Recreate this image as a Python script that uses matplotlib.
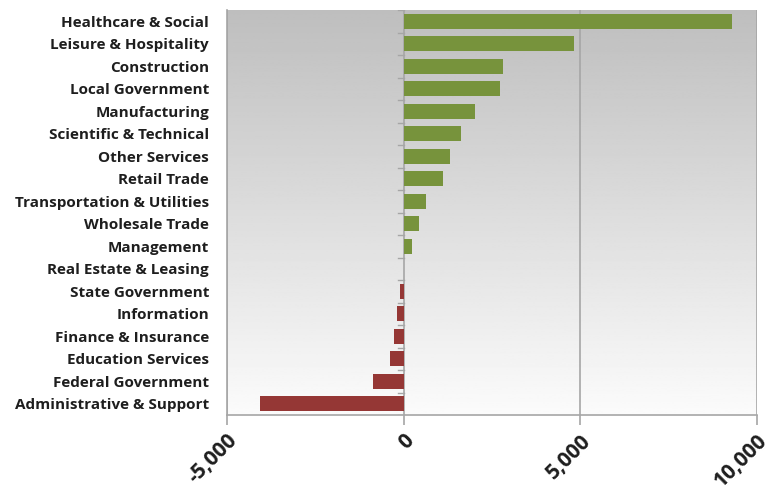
import matplotlib
matplotlib.use('Agg')
import matplotlib.pyplot as plt
import numpy as np

categories = ["Healthcare & Social", "Leisure & Hospitality", "Construction",
              "Local Government", "Manufacturing", "Scientific & Technical",
              "Other Services", "Retail Trade", "Transportation & Utilities",
              "Wholesale Trade", "Management", "Real Estate & Leasing",
              "State Government", "Information", "Finance & Insurance",
              "Education Services", "Federal Government", "Administrative & Support"]
values = [9300, 4810, 2800, 2720, 2010, 1610, 1300, 1100, 620, 420, 230, 0,
          -110, -200, -280, -400, -880, -4080]
xticks = [-5000, 0, 5000, 10000]

GREEN = '#77933C'
RED = '#953735'

fig = plt.figure(figsize=(7.75, 4.92), dpi=100)
ax = fig.add_axes([227 / 775, 1 - 415 / 492, 530 / 775, 405 / 492])

n = len(categories)
y = np.arange(n)[::-1]

# gradient background, dark at top
grad = np.linspace(0.745, 0.985, 256).reshape(-1, 1)
ax.imshow(grad, cmap='gray', vmin=0, vmax=1, aspect='auto',
          extent=[-5000, 10000, -0.5, n - 0.5], origin='upper', zorder=0)

colors = [GREEN if v >= 0 else RED for v in values]
ax.barh(y, values, height=0.67, color=colors, zorder=3)

ax.set_xlim(-5000, 10000)
ax.set_ylim(-0.5, n - 0.5)

for xv in xticks:
    ax.axvline(xv, color='#A6A6A6', linewidth=1.2, zorder=2)

# small category ticks on the zero axis
for b in np.arange(n + 1) - 0.5:
    ax.plot([-160, 0], [b, b], color='#A6A6A6', linewidth=1, zorder=2)

for s in ['top', 'right']:
    ax.spines[s].set_visible(False)
for s in ['left', 'bottom']:
    ax.spines[s].set_color('#A6A6A6')
    ax.spines[s].set_linewidth(1.2)

ax.set_yticks(y)
ax.set_yticklabels(categories, fontfamily='Open Sans', fontweight='bold',
                   fontsize=11, color='#1E1E1E')
ax.tick_params(axis='y', length=0, pad=13)

ax.set_xticks(xticks)
ax.set_xticklabels([f"{v:,}" for v in xticks], rotation=45, ha='right',
                   rotation_mode='anchor', fontfamily='Open Sans',
                   fontweight='bold', fontsize=15, color='#1E1E1E')
ax.tick_params(axis='x', length=7, color='#A6A6A6', width=1.2, pad=4)

fig.savefig('out.png', dpi=100)
